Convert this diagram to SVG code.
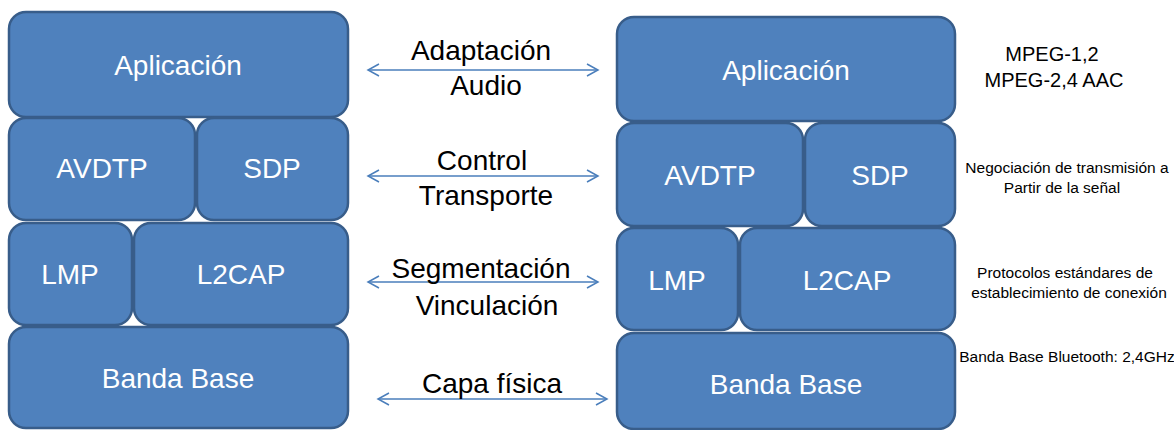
<svg xmlns="http://www.w3.org/2000/svg" width="1174" height="430" viewBox="0 0 1174 430">
<style>
.box{fill:#4F81BD;stroke:#385D8A;stroke-width:2.5}
.bt{fill:#FFFFFF;font-family:"Liberation Sans",Arial,sans-serif;font-size:28px;text-anchor:middle}
.mt{fill:#000000;font-family:"Liberation Sans",Arial,sans-serif;font-size:28px;text-anchor:middle}
.st{fill:#000000;font-family:"Liberation Sans",Arial,sans-serif;font-size:20px;text-anchor:middle}
.nt{fill:#000000;font-family:"Liberation Sans",Arial,sans-serif;font-size:15.5px;text-anchor:middle}
.arr{stroke:#4A7EBB;stroke-width:1.5;fill:none;marker-start:url(#ah);marker-end:url(#ah)}
</style>
<defs>
<marker id="ah" markerUnits="userSpaceOnUse" markerWidth="16" markerHeight="16" refX="12" refY="7" orient="auto-start-reverse">
<path d="M1,1 L12,7 L1,13" fill="none" stroke="#4A7EBB" stroke-width="1.5"/>
</marker>
</defs>
<rect width="1174" height="430" fill="#FFFFFF"/>
<g id="left-aplicacion"><rect class="box" x="9" y="12" width="339" height="105" rx="17"/><text class="bt" x="178" y="75">Aplicación</text></g>
<g id="left-avdtp"><rect class="box" x="9" y="118" width="186" height="102" rx="17"/><text class="bt" x="102" y="178">AVDTP</text></g>
<g id="left-sdp"><rect class="box" x="197" y="118" width="151" height="102" rx="17"/><text class="bt" x="272" y="178">SDP</text></g>
<g id="left-lmp"><rect class="box" x="9" y="223" width="123" height="102" rx="17"/><text class="bt" x="70" y="284">LMP</text></g>
<g id="left-l2cap"><rect class="box" x="134" y="223" width="214" height="102" rx="17"/><text class="bt" x="241" y="284">L2CAP</text></g>
<g id="left-banda"><rect class="box" x="9" y="327" width="339" height="101" rx="17"/><text class="bt" x="178" y="388">Banda Base</text></g>
<g id="right-aplicacion"><rect class="box" x="617" y="17" width="338" height="104" rx="17"/><text class="bt" x="786" y="80">Aplicación</text></g>
<g id="right-avdtp"><rect class="box" x="617" y="123" width="186" height="103" rx="17"/><text class="bt" x="710" y="185">AVDTP</text></g>
<g id="right-sdp"><rect class="box" x="805" y="123" width="150" height="103" rx="17"/><text class="bt" x="880" y="185">SDP</text></g>
<g id="right-lmp"><rect class="box" x="617" y="228" width="121" height="102" rx="17"/><text class="bt" x="677" y="290">LMP</text></g>
<g id="right-l2cap"><rect class="box" x="740" y="228" width="215" height="102" rx="17"/><text class="bt" x="847" y="290">L2CAP</text></g>
<g id="right-banda"><rect class="box" x="617" y="333" width="338" height="96" rx="17"/><text class="bt" x="786" y="394">Banda Base</text></g>
<g id="connectors">
<line class="arr" x1="368" y1="70" x2="598" y2="70"/>
<line class="arr" x1="368" y1="176" x2="598" y2="176"/>
<line class="arr" x1="368" y1="282" x2="598" y2="282"/>
<line class="arr" x1="378" y1="399" x2="607" y2="399"/>
</g>
<g id="labels">
<text class="mt" x="481" y="60">Adaptación</text>
<text class="mt" x="486" y="95">Audio</text>
<text class="mt" x="482" y="170">Control</text>
<text class="mt" x="486" y="205">Transporte</text>
<text class="mt" x="481" y="278">Segmentación</text>
<text class="mt" x="487" y="315">Vinculación</text>
<text class="mt" x="492" y="393">Capa física</text>
</g>
<g id="notes">
<text class="st" x="1052" y="61">MPEG-1,2</text>
<text class="st" x="1054" y="87">MPEG-2,4 AAC</text>
<text class="nt" x="1067" y="173">Negociación de transmisión a</text>
<text class="nt" x="1062" y="193">Partir de la señal</text>
<text class="nt" x="1065" y="278">Protocolos estándares de</text>
<text class="nt" x="1069" y="298">establecimiento de conexión</text>
<text class="nt" x="1067" y="362">Banda Base Bluetooth: 2,4GHz</text>
</g>
</svg>
